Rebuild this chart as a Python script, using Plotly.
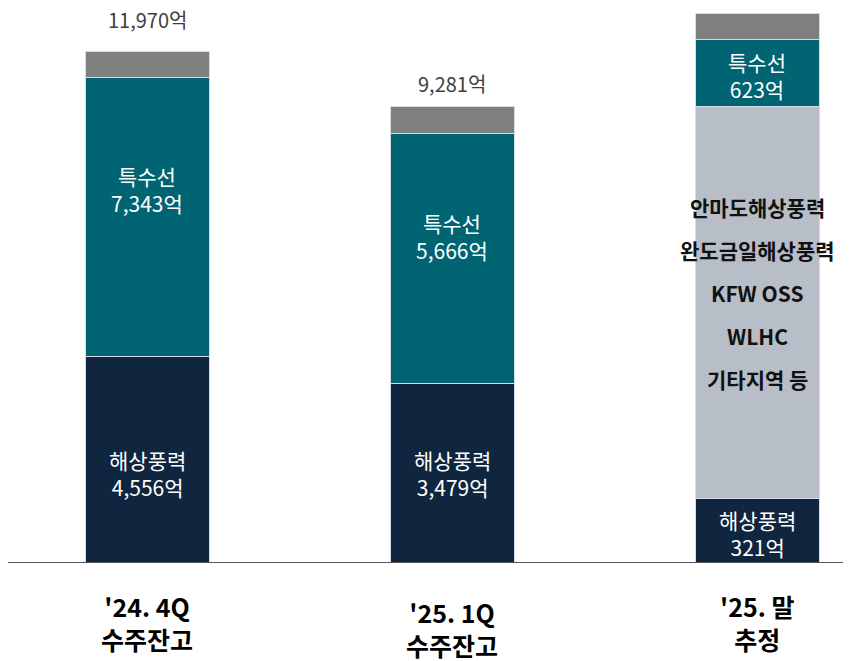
import plotly.graph_objects as go

categories = ["'24. 4Q<br>수주잔고", "'25. 1Q<br>수주잔고", "'25. 말<br>추정"]
# label values (억)
offshore_value = [4556, 3479, 321]
special_value = [7343, 5666, 623]
total_value = [11970, 9281, None]
# drawn segment heights (display units)
offshore_h = [207, 180, 65]
project_h = [0, 0, 392]
special_h = [279, 250, 67]
other_h = [26, 27, 26]
project_lines = ["안마도해상풍력", "완도금일해상풍력", "KFW OSS", "WLHC", "기타지역 등"]

x = [0, 1, 2]
KR = "Noto Sans CJK KR"
fig = go.Figure()
line = dict(color="#D4DCEA", width=1)
W = 0.407
fig.add_bar(x=x, y=offshore_h, marker=dict(color="#10263F", line=line), width=W)
fig.add_bar(x=x, y=project_h, marker=dict(color="#B8BEC7", line=line), width=W)
fig.add_bar(x=x, y=special_h, marker=dict(color="#006472", line=line), width=W)
fig.add_bar(x=x, y=other_h, marker=dict(color="#7F7F7F", line=line), width=W)

ann = []
wfont = dict(family=KR, size=21, color="white")
navy_shift = [-14, 0, -3]
teal_shift = [27, 22, -3]
for i in x:
    ann.append(dict(x=i, y=offshore_h[i] / 2, yshift=navy_shift[i],
                    text=f"해상풍력<br>{offshore_value[i]:,}억",
                    showarrow=False, font=wfont))
    base = offshore_h[i] + project_h[i]
    ann.append(dict(x=i, y=base + special_h[i] / 2, yshift=teal_shift[i],
                    text=f"특수선<br>{special_value[i]:,}억",
                    showarrow=False, font=wfont))
    top = base + special_h[i] + other_h[i]
    if total_value[i] is not None:
        ann.append(dict(x=i, y=top, yanchor="bottom", yshift=[16, 7, 0][i], borderpad=0,
                        text=f"{total_value[i]:,}억", showarrow=False,
                        font=dict(family=KR, size=20, color="#404040")))
# project list in bar 3
n = len(project_lines)
for k, t in enumerate(project_lines):
    ann.append(dict(x=2, y=offshore_h[2] + project_h[2] / 2, yshift=(n - 1) / 2 * 43 - k * 43 + 9,
                    text=t, showarrow=False,
                    font=dict(family=KR, size=21, color="#111111", weight="bold")))
# category labels
for i, c in enumerate(categories):
    ann.append(dict(x=i, y=0, yshift=[-59, -65, -59][i], text=c, showarrow=False,
                    font=dict(family=KR, size=25, color="black", weight="bold")))

fig.update_layout(
    barmode="stack", width=851, height=661, showlegend=False,
    plot_bgcolor="white", paper_bgcolor="white",
    margin=dict(l=0, r=0, t=0, b=106),
    xaxis=dict(range=[-0.456, 2.334], showticklabels=False, showgrid=False, zeroline=False,
               showline=False),
    yaxis=dict(range=[0, 555], visible=False),
    annotations=ann,
    shapes=[dict(type="line", xref="paper", yref="y", x0=0.0, x1=1, y0=0, y1=0,
                 line=dict(color="#555555", width=2))],
)
fig.write_html("out.html")
